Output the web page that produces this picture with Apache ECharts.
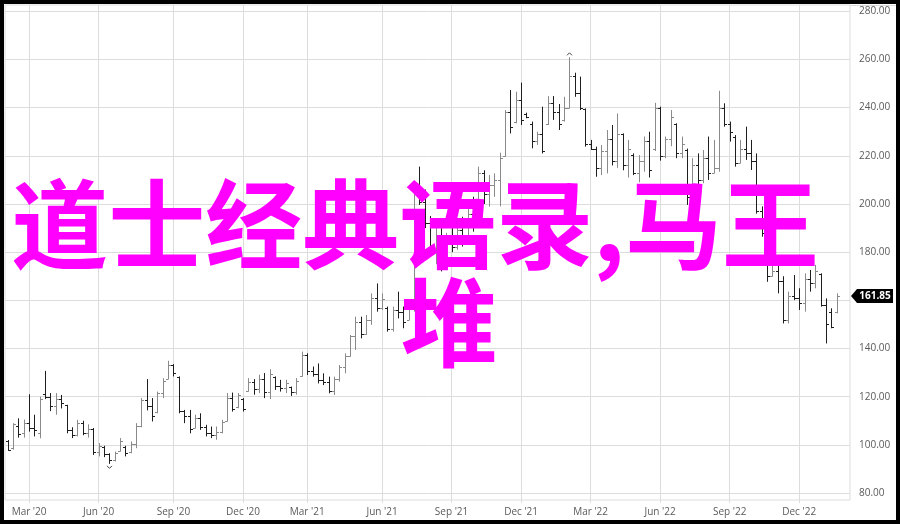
<!DOCTYPE html>
<html>
<head>
<meta charset="utf-8">
<script src="https://cdn.jsdelivr.net/npm/echarts@6/dist/echarts.min.js"></script>
<style>html,body{margin:0;padding:0;background:#fff;}#chart{width:900px;height:524px;}</style>
</head>
<body>
<div id="chart"></div>
<script>
const dates = [
'2020-02-03','2020-02-10','2020-02-17','2020-02-24','2020-03-02','2020-03-09','2020-03-16','2020-03-23','2020-03-30','2020-04-06',
'2020-04-13','2020-04-20','2020-04-27','2020-05-04','2020-05-11','2020-05-18','2020-05-25','2020-06-01','2020-06-08','2020-06-15',
'2020-06-22','2020-06-29','2020-07-06','2020-07-13','2020-07-20','2020-07-27','2020-08-03','2020-08-10','2020-08-17','2020-08-24',
'2020-08-31','2020-09-07','2020-09-14','2020-09-21','2020-09-28','2020-10-05','2020-10-12','2020-10-19','2020-10-26','2020-11-02',
'2020-11-09','2020-11-16','2020-11-23','2020-11-30','2020-12-07','2020-12-14','2020-12-21','2020-12-28',
'2021-01-04','2021-01-11','2021-01-18','2021-01-25','2021-02-01','2021-02-08','2021-02-15','2021-02-22','2021-03-01','2021-03-08',
'2021-03-15','2021-03-22','2021-03-29','2021-04-05','2021-04-12','2021-04-19','2021-04-26','2021-05-03','2021-05-10','2021-05-17',
'2021-05-24','2021-05-31','2021-06-07','2021-06-14','2021-06-21','2021-06-28','2021-07-05','2021-07-12','2021-07-19','2021-07-26',
'2021-08-02','2021-08-09','2021-08-16','2021-08-23','2021-08-30','2021-09-06','2021-09-13','2021-09-20','2021-09-27','2021-10-04',
'2021-10-11','2021-10-18','2021-10-25','2021-11-01','2021-11-08','2021-11-15','2021-11-22','2021-11-29','2021-12-06','2021-12-13',
'2021-12-20','2021-12-27',
'2022-01-03','2022-01-10','2022-01-17','2022-01-24','2022-01-31','2022-02-07','2022-02-14','2022-02-21','2022-02-28','2022-03-07',
'2022-03-14','2022-03-21','2022-03-28','2022-04-04','2022-04-11','2022-04-18','2022-04-25','2022-05-02','2022-05-09','2022-05-16',
'2022-05-23','2022-05-30','2022-06-06','2022-06-13','2022-06-20','2022-06-27','2022-07-04','2022-07-11','2022-07-18','2022-07-25',
'2022-08-01','2022-08-08','2022-08-15','2022-08-22','2022-08-29','2022-09-05','2022-09-12','2022-09-19','2022-09-26','2022-10-03',
'2022-10-10','2022-10-17','2022-10-24','2022-10-31','2022-11-07','2022-11-14','2022-11-21','2022-11-28','2022-12-05','2022-12-12',
'2022-12-19','2022-12-26',
'2023-01-02','2023-01-09','2023-01-16','2023-01-23','2023-01-30','2023-02-06'
];

const opens = [
101.5,98.5,108,105,109,107,105,121,120,116,
119,116.5,106,104,109,105,106.5,97,99,96,
93.5,97.5,99,97,100.5,108,118.5,116,113.5,121.5,
127.5,133,128,114,112,107,111,107.5,105,104,
105.5,110,119.5,115.5,119,122.5,126,123,127.5,122,
128,124.5,123.5,124,122,128.5,137.5,130.5,129.5,127,
126,122.5,127.5,132.5,137,145,151,146,152,161,
157,157,148,156,155,152,157,205,201,192,
181,186,176,185,182,189,184,196,198,213,
204,208,210,220,238,234,243,237.5,233,226,
229,233,242,238,235,240,253,246,239.5,225,
223,215,222,227,218,229,216,220.5,213,218,
226,223,240,220,227,233,221,222.5,203,216,
210,219,213,215,240,233,228,217,223,221,
218,197,184,170,172,168,152,162,161,159,
169,167,171,158,155,155
];
const highs = [
102,109,111,110.5,121,112.5,120,130.7,121.5,121.5,
120.7,116.6,107.3,110.4,110,108.5,107,100.7,99.6,96.5,
97.2,102.8,99.6,101.4,109,119.4,127.3,119.4,122.1,127.7,
134.9,133.5,128.4,114.5,114.5,112.5,113.1,108.3,107.6,107.6,
110.4,121.5,121.7,121.5,119.4,127.7,127.3,129.1,129.8,131.4,
128.4,127,127,124.2,127.7,138.7,138,132.5,133.8,129.7,
128.3,128.3,133.1,138,145.6,153.2,153.2,153.9,162.9,167,
162.9,157.4,157.4,163.6,157.4,158.1,209.3,215.5,206,195,
190,193,188,190,192,194.7,198,203,215.5,214,
212,212.7,221.3,239,247.3,246.6,250.4,237.9,234.2,230,
240.4,244.8,244.8,241.5,244.5,260.9,254.5,252.9,239.7,226.6,
223.8,224.5,230.7,232.8,237.6,229.3,226.6,221,220.3,228,
230,242,240.4,228,239,233.5,228,223,219,221,
222.4,228,226.6,247,241.8,234.2,228.6,226.6,232.1,226.6,
221,199,185,176,174.5,170,163.6,170.5,165,171.2,
172.6,174.7,171.2,160.8,156.7,162.9
];
const lows = [
97.5,98,103,103,105.5,103.5,102.7,119,114,112.5,
115.1,104.8,102.8,103.5,104,103,95.8,95.2,94.9,92.1,
93.1,97.2,95.2,96.5,98.6,107.3,114.3,109.7,113.1,119.4,
127.3,128.4,113.1,109,104.8,106.9,106.2,103.5,102.8,102.1,
104.8,109.7,113.8,115.2,113.8,122.1,120.8,121.5,119.4,119,
122.8,122.1,121.5,120.3,120.8,128.3,129,128.3,125.5,124.8,
121.4,120.7,126.2,129.7,136.6,139.4,144.2,145.6,149.8,155.3,
156,147,147,152.5,148.4,151.8,155.3,199.6,190,178,
175,172,175,180,181,182.3,183,188.5,197.5,200,
198.9,203,199,219.6,229.3,233.5,232.8,235.6,223.1,224.5,
221,232.8,234.9,230.7,234.2,239.7,244.5,239,223.8,222.4,
211.3,212,212.7,216,215,214,211,212,209,213.4,
211,222,218,219,224,219,219,199.6,202,207,
208.6,210,212.8,213.4,232.1,225.9,215.5,216.9,218.3,214.1,
196,186.4,167.7,169.8,162.9,150.4,150.4,160.1,156,155.3,
163.6,165,157.4,142.1,148.4,154.6
];
const closes = [
98,108.5,104.5,109,107,106,119,119.8,116,119,
117.5,106,104,109,105,106.5,97,99.5,96,93.5,
96.5,101.5,96.5,100.5,108,118.5,116,112,121.5,126.5,
133,130,114,112,106.5,111,107.5,105,104,105.5,
109.5,119.5,115,120.5,115,126,123,127.5,122,129.5,
124.5,123.5,125.5,122,126.5,137.5,130.5,129.5,127,126,
122.5,127.5,132.5,137,145,151,146,152,161,157,
160.5,148,156,155,151,157,205,201,192,181,
186,176,185,182,189,184,196,192,213,204,
208,210,219,238,232,243,235,236,226,229,
222,242,238,233,240,253,246,240,225,223,
215,222,227,218,229,216,223,213,218,226,
214,240,220,227,236,221,225,203,216,210,
219,213,215,240,233,230,217,223,221,218,
197,188,170,172,168,152,162,161,159,169,
167,172,158,150,149,161.85
];

const tickDates  = ['2020-03-02','2020-06-01','2020-09-07','2020-12-07','2021-03-01','2021-06-07','2021-09-06','2021-12-06','2022-03-07','2022-06-06','2022-09-05','2022-12-05'];
const tickLabels = ["Mar '20","Jun '20","Sep '20","Dec '20","Mar '21","Jun '21","Sep '21","Dec '21","Mar '22","Jun '22","Sep '22","Dec '22"];

const titleLine1 = '道士经典语录,马王';
const titleLine2 = '堆';

const UP = '#8a8a8a', DOWN = '#1e1e1e', GRID = '#dcdcdc';
const ohlc = opens.map((o, i) => [i, o, highs[i], lows[i], closes[i]]);
const maxHigh = Math.max(...highs), minLow = Math.min(...lows);
const lastIdx = closes.length - 1, lastClose = closes[lastIdx];
const isTick = (idx, value) => tickDates.indexOf(value) >= 0;

function renderOHLC(params, api) {
  const i = api.value(0), o = api.value(1), h = api.value(2), l = api.value(3), c = api.value(4);
  const pt = api.coord([i, h]), pb = api.coord([i, l]), po = api.coord([i, o]), pc = api.coord([i, c]);
  const x = Math.round(pt[0]) + 0.5;
  const st = {stroke: c >= o ? UP : DOWN, lineWidth: 1};
  const yo = Math.round(po[1]) + 0.5, yc = Math.round(pc[1]) + 0.5;
  const ch = [
    {type: 'line', shape: {x1: x, y1: pt[1], x2: x, y2: pb[1]}, style: st},
    {type: 'line', shape: {x1: x - 2.5, y1: yo, x2: x, y2: yo}, style: st},
    {type: 'line', shape: {x1: x, y1: yc, x2: x + 2.5, y2: yc}, style: st}
  ];
  if (h === maxHigh) ch.push({type: 'polyline', shape: {points: [[x - 2.5, pt[1] - 2], [x, pt[1] - 4.5], [x + 2.5, pt[1] - 2]]}, style: {stroke: '#444', lineWidth: 1, fill: null}});
  if (l === minLow) ch.push({type: 'polyline', shape: {points: [[x - 2.5, pb[1] + 2], [x, pb[1] + 4.5], [x + 2.5, pb[1] + 2]]}, style: {stroke: '#444', lineWidth: 1, fill: null}});
  return {type: 'group', children: ch};
}

function renderTag(params, api) {
  const p = api.coord([api.value(0), api.value(1)]);
  const r = params.coordSys.x + params.coordSys.width;
  const y = Math.round(p[1]);
  return {type: 'group', children: [
    {type: 'polygon', shape: {points: [[r + 1, y], [r + 7, y - 7], [r + 43, y - 7], [r + 43, y + 7], [r + 7, y + 7]]}, style: {fill: '#000'}},
    {type: 'text', style: {x: r + 25, y: y, text: api.value(1).toFixed(2), fill: '#fff', font: 'bold 10px "Open Sans"', textAlign: 'center', textVerticalAlign: 'middle'}}
  ]};
}

const chart = echarts.init(document.getElementById('chart'));
chart.setOption({
  animation: false,
  backgroundColor: '#fff',
  grid: [
    {left: 5, right: 50, top: 11.3, bottom: 31},
    {left: 5, right: 50, top: 5, bottom: 24, show: true, borderColor: GRID, borderWidth: 1, backgroundColor: 'transparent'}
  ],
  xAxis: [
    {gridIndex: 0, type: 'category', data: dates, boundaryGap: true,
     axisLine: {show: false}, axisTick: {show: false}, axisLabel: {show: false}, splitLine: {show: false}},
    {gridIndex: 1, type: 'category', data: dates, boundaryGap: true,
     axisLine: {show: false},
     axisTick: {show: true, alignWithLabel: true, interval: isTick, length: 3, lineStyle: {color: GRID}},
     axisLabel: {interval: isTick, formatter: v => tickLabels[tickDates.indexOf(v)] || '', color: '#5a5a5a', fontSize: 10, fontFamily: 'Open Sans', margin: 7},
     splitLine: {show: true, interval: isTick, alignWithLabel: true, lineStyle: {color: GRID, width: 1}}}
  ],
  yAxis: [
    {gridIndex: 0, type: 'value', position: 'right', min: 80, max: 280, interval: 20,
     axisLine: {show: false}, axisTick: {show: false},
     axisLabel: {formatter: v => v.toFixed(2), color: '#5a5a5a', fontSize: 10, fontFamily: 'Open Sans', margin: 9},
     splitLine: {show: true, lineStyle: {color: GRID, width: 1}}},
    {gridIndex: 1, type: 'value', min: 0, max: 1, show: false}
  ],
  series: [
    {type: 'custom', xAxisIndex: 0, yAxisIndex: 0, renderItem: renderOHLC, data: ohlc, encode: {x: 0, y: [1, 2, 3, 4]}, clip: false, z: 2},
    {type: 'custom', xAxisIndex: 0, yAxisIndex: 0, renderItem: renderTag, data: [[lastIdx, lastClose]], encode: {x: 0, y: 1}, clip: false, z: 3}
  ],
  graphic: [
    {type: 'line', z: 50, shape: {x1: 850, y1: 5.5, x2: 896, y2: 5.5}, style: {stroke: GRID, lineWidth: 1}},
    {type: 'text', z: 100, x: 415, y: 224, style: {text: titleLine1, fill: '#ff00ff', font: 'bold 97px "Noto Sans CJK SC"', textAlign: 'center', textVerticalAlign: 'middle'}},
    {type: 'text', z: 100, x: 449, y: 322, style: {text: titleLine2, fill: '#ff00ff', font: 'bold 97px "Noto Sans CJK SC"', textAlign: 'center', textVerticalAlign: 'middle'}},
    {type: 'rect', z: 200, shape: {x: 0, y: 0, width: 900, height: 524}, style: {fill: 'none', stroke: '#000', lineWidth: 8}}
  ]
});
</script>
</body>
</html>
